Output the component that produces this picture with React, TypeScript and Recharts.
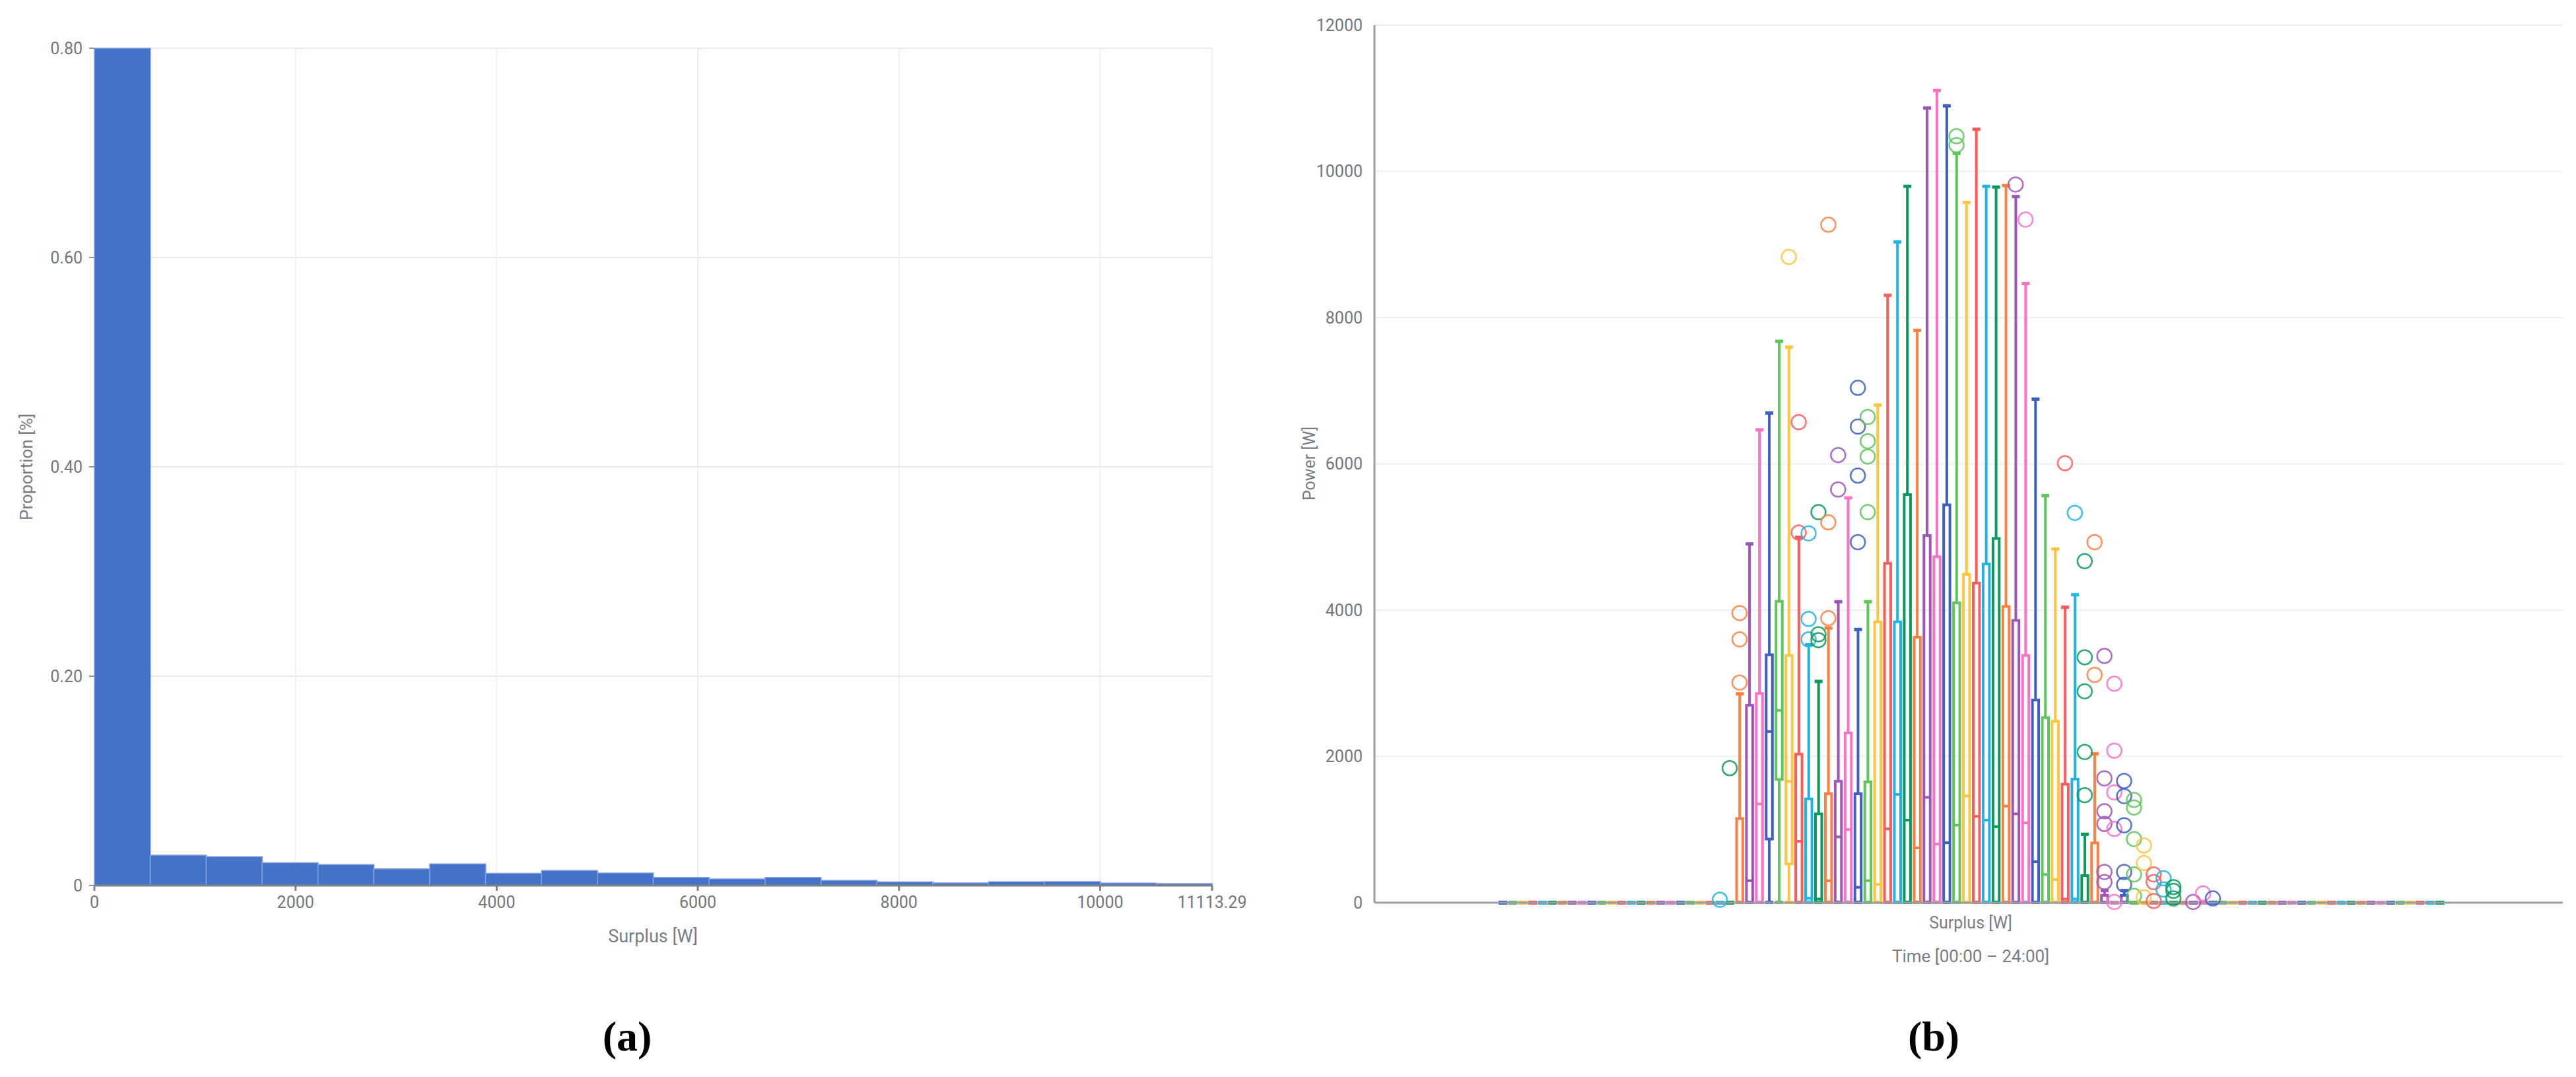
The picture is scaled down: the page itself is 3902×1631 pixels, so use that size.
import { BarChart, Bar, XAxis, YAxis, CartesianGrid, ComposedChart, Scatter } from "recharts";

// (a) histogram of surplus: 20 bins of 555.66 W up to 11113.29 W
const binCenters = [
  277.83, 833.5, 1389.16, 1944.83, 2500.49, 3056.15, 3611.82, 4167.48, 4723.15, 5278.81,
  5834.48, 6390.14, 6945.81, 7501.47, 8057.13, 8612.8, 9168.46, 9724.13, 10279.79, 10835.46,
];
const proportions = [
  0.8, 0.029, 0.0276, 0.0217, 0.02, 0.016, 0.0206, 0.0116, 0.0143, 0.012,
  0.0078, 0.0063, 0.0078, 0.0049, 0.0034, 0.0025, 0.0036, 0.0038, 0.0023, 0.0019,
];
const histXTicks = [0, 2000, 4000, 6000, 8000, 10000, 11113.29];
const histYTicks = [0, 0.2, 0.4, 0.6, 0.8];

// (b) box plots, one per 15-minute slot (96 slots over the day)
const whiskerLow = [
  0, 0, 0, 0, 0, 0, 0, 0, 0, 0, 0, 0,
  0, 0, 0, 0, 0, 0, 0, 0, 0, 0, 0, 0,
  0, 0, 0, 0, 0, 0, 0, 0, 0, 0, 0, 0,
  0, 0, 0, 0, 0, 0, 0, 0, 0, 0, 0, 0,
  0, 0, 0, 0, 0, 0, 0, 0, 0, 0, 0, 0,
  0, 0, 0, 0, 0, 0, 0, 0, 0, 0, 0, 0,
  0, 0, 0, 0, 0, 0, 0, 0, 0, 0, 0, 0,
  0, 0, 0, 0, 0, 0, 0, 0, 0, 0, 0, 0,
];
const quartile1 = [
  0, 0, 0, 0, 0, 0, 0, 0, 0, 0, 0, 0,
  0, 0, 0, 0, 0, 0, 0, 0, 0, 0, 0, 0,
  0, 0, 0, 870, 1685, 530, 0, 0, 0, 0, 0, 0,
  0, 0, 0, 0, 0, 0, 0, 0, 0, 0, 0, 0,
  0, 0, 0, 0, 0, 0, 0, 0, 0, 0, 0, 0,
  0, 0, 0, 0, 0, 0, 0, 0, 0, 0, 0, 0,
  0, 0, 0, 0, 0, 0, 0, 0, 0, 0, 0, 0,
  0, 0, 0, 0, 0, 0, 0, 0, 0, 0, 0, 0,
];
const medians = [
  0, 0, 0, 0, 0, 0, 0, 0, 0, 0, 0, 0,
  0, 0, 0, 0, 0, 0, 0, 0, 0, 0, 0, 0,
  0, 300, 1350, 2340, 2630, 1660, 840, 60, 50, 300, 900, 1000,
  210, 300, 250, 1010, 1480, 1130, 750, 1440, 800, 820, 1060, 1460,
  1180, 1130, 1040, 1320, 1215, 1090, 560, 385, 316, 50, 50, 0,
  0, 0, 0, 0, 0, 0, 0, 0, 0, 0, 0, 0,
  0, 0, 0, 0, 0, 0, 0, 0, 0, 0, 0, 0,
  0, 0, 0, 0, 0, 0, 0, 0, 0, 0, 0, 0,
];
const quartile3 = [
  0, 0, 0, 0, 0, 0, 0, 0, 0, 0, 0, 0,
  0, 0, 0, 0, 0, 0, 0, 0, 0, 0, 0, 0,
  1150, 2700, 2860, 3390, 4120, 3380, 2030, 1420, 1215, 1490, 1660, 2320,
  1490, 1650, 3840, 4640, 3840, 5580, 3630, 5020, 4730, 5440, 4100, 4490,
  4370, 4630, 4980, 4050, 3860, 3380, 2770, 2530, 2480, 1620, 1690, 370,
  817, 100, 0, 100, 0, 0, 0, 0, 0, 0, 0, 0,
  0, 0, 0, 0, 0, 0, 0, 0, 0, 0, 0, 0,
  0, 0, 0, 0, 0, 0, 0, 0, 0, 0, 0, 0,
];
const whiskerHigh = [
  0, 0, 0, 0, 0, 0, 0, 0, 0, 0, 0, 0,
  0, 0, 0, 0, 0, 0, 0, 0, 0, 0, 0, 0,
  2860, 4910, 6470, 6700, 7680, 7600, 5000, 3530, 3030, 3760, 4120, 5540,
  3740, 4120, 6810, 8310, 9040, 9800, 7830, 10870, 11110, 10900, 10250, 9580,
  10580, 9800, 9790, 9810, 9660, 8470, 6890, 5570, 4840, 4045, 4215, 940,
  2040, 170, 0, 170, 0, 0, 0, 0, 0, 0, 0, 0,
  0, 0, 0, 0, 0, 0, 0, 0, 0, 0, 0, 0,
  0, 0, 0, 0, 0, 0, 0, 0, 0, 0, 0, 0,
];
// [slot, value]
const outliers = [
  [22, 40], [23, 1840],
  [24, 3010], [24, 3600], [24, 3960],
  [29, 8830],
  [30, 5060], [30, 6570],
  [31, 3600], [31, 3880], [31, 5050],
  [32, 3590], [32, 3670], [32, 5340],
  [33, 3890], [33, 5200], [33, 9270],
  [34, 5650], [34, 6120],
  [36, 4930], [36, 5840], [36, 6510], [36, 7040],
  [37, 5340], [37, 6100], [37, 6310], [37, 6640],
  [46, 10360], [46, 10480],
  [52, 9820], [53, 9340], [57, 6010], [58, 5330],
  [59, 1470], [59, 2060], [59, 2890], [59, 3355], [59, 4670],
  [60, 3115], [60, 4930],
  [61, 282], [61, 420], [61, 1077], [61, 1250], [61, 1700], [61, 3374],
  [62, 10], [62, 1008], [62, 1508], [62, 2079], [62, 2994],
  [63, 247], [63, 420], [63, 1059], [63, 1457], [63, 1664],
  [64, 92], [64, 385], [64, 870], [64, 1301], [64, 1405],
  [65, 75], [65, 542], [65, 783],
  [66, 23], [66, 282], [66, 385],
  [67, 180], [67, 334],
  [68, 58], [68, 162], [68, 213],
  [70, 10], [71, 126], [72, 58],
];
const powerTicks = [0, 2000, 4000, 6000, 8000, 10000, 12000];

const palette = ["#3d5fc6", "#5ec65b", "#ffc53d", "#ff5b5b", "#1fb4e3", "#0a9a5c", "#ff7f41", "#9d55b8", "#ff70c8"];

const histData = binCenters.map((x, i) => ({ x, p: proportions[i] }));
const boxData = whiskerHigh.map((hi, slot) => ({
  slot,
  lo: whiskerLow[slot],
  q1: quartile1[slot],
  med: medians[slot],
  q3: quartile3[slot],
  hi,
  range: [whiskerLow[slot], hi],
}));
const outlierData = outliers.map(([slot, value]) => ({ slot, value }));

const tickStyle = { fill: "#73767d", fontSize: 25, fontFamily: "Roboto" };
const titleColor = "#7a7d84";

function BoxShape(props: any) {
  const { x, y, width, height, payload } = props;
  const color = palette[payload.slot % palette.length];
  const top = Math.min(y, y + height);
  const span = payload.hi - payload.lo;
  if (!(span > 0)) {
    return <rect x={x} y={top - 3} width={width} height={6} fill={color} />;
  }
  const unit = Math.abs(height) / span;
  const py = (v: number) => top + (payload.hi - v) * unit;
  const cx = x + width / 2;
  const sw = 4;
  const boxTop = py(payload.q3);
  const boxBot = py(payload.q1);
  return (
    <g>
      <line x1={cx} x2={cx} y1={py(payload.hi)} y2={boxTop} stroke={color} strokeWidth={sw} />
      <line x1={cx} x2={cx} y1={boxBot} y2={py(payload.lo)} stroke={color} strokeWidth={sw} />
      <rect x={cx - 6} y={py(payload.hi) - 2} width={12} height={5} fill={color} />
      <rect x={cx - 6} y={py(payload.lo) - 3} width={12} height={5} fill={color} />
      <rect x={x + sw / 2} y={boxTop} width={width - sw} height={Math.max(boxBot - boxTop, 0)} fill="none" stroke={color} strokeWidth={sw} />
      <line x1={x + sw / 2} x2={x + width - sw / 2} y1={py(payload.med)} y2={py(payload.med)} stroke={color} strokeWidth={sw} />
    </g>
  );
}

function OutlierShape(props: any) {
  const { cx, cy, payload } = props;
  const color = palette[payload.slot % palette.length];
  return <circle cx={cx} cy={cy} r={11} fill="none" stroke={color} strokeOpacity={0.85} strokeWidth={2.5} />;
}

function Title({ text, x, y, size = 26, rotate = false }: { text: string; x: number; y: number; size?: number; rotate?: boolean }) {
  return (
    <div
      style={{
        position: "absolute",
        left: x,
        top: y,
        transform: `translate(-50%, -50%)${rotate ? " rotate(-90deg)" : ""}`,
        whiteSpace: "nowrap",
        fontFamily: "Roboto",
        fontSize: size,
        color: titleColor,
      }}
    >
      {text}
    </div>
  );
}

function PanelTag({ text, x, y }: { text: string; x: number; y: number }) {
  return (
    <div
      style={{
        position: "absolute",
        left: x,
        top: y,
        transform: "translate(-50%, -50%)",
        fontFamily: "Liberation Serif",
        fontWeight: "bold",
        fontSize: 64,
        color: "#000",
      }}
    >
      {text}
    </div>
  );
}

export default function App() {
  return (
    <div style={{ position: "absolute", left: 0, top: 0, width: 3902, height: 1631, background: "#fff" }}>
      <div style={{ position: "absolute", left: 0, top: 0 }}>
        <BarChart width={1900} height={1500} data={histData} margin={{ top: 73, right: 64, bottom: 99, left: 0 }} barCategoryGap={0} barGap={0}>
          <CartesianGrid vertical={false} stroke="#e4e9f4" strokeWidth={2} />
          <CartesianGrid horizontal={false} stroke="#eef0f3" strokeWidth={2} />
          <XAxis
            type="number"
            dataKey="x"
            domain={[0, 11113.29]}
            ticks={histXTicks}
            interval={0}
            tick={tickStyle}
            tickSize={8}
            tickMargin={8}
            stroke="#7d8088"
            strokeWidth={3}
            height={60}
            tickFormatter={(v) => String(v)}
          />
          <YAxis
            domain={[0, 0.8]}
            ticks={histYTicks}
            width={143}
            axisLine={false}
            tick={tickStyle}
            tickLine={{ stroke: "#8e9198", strokeWidth: 2 }}
            tickSize={8}
            tickMargin={10}
            tickFormatter={(v) => (v === 0 ? "0" : v.toFixed(2))}
          />
          <Bar dataKey="p" fill="#4472c8" stroke="#86a2e0" strokeWidth={1.5} isAnimationActive={false} />
        </BarChart>
      </div>
      <Title text="Proportion [%]" x={40} y={707} rotate />
      <Title text="Surplus [W]" x={989} y={1418} size={27} />
      <PanelTag text="(a)" x={950} y={1570} />

      <div style={{ position: "absolute", left: 1950, top: 0 }}>
        <ComposedChart width={1952} height={1500} data={boxData} margin={{ top: 38, right: 20, bottom: 132, left: 0 }}>
          <CartesianGrid vertical={false} stroke="#eff0f3" strokeWidth={2} />
          <XAxis
            type="number"
            dataKey="slot"
            domain={[-0.5, 95.5]}
            padding={{ left: 187, right: 179 }}
            tick={false}
            tickLine={false}
            height={1}
            stroke="#9a9da4"
            strokeWidth={3}
          />
          <YAxis
            domain={[0, 12000]}
            ticks={powerTicks}
            width={132}
            tick={tickStyle}
            tickLine={false}
            tickSize={0}
            tickMargin={18}
            stroke="#9a9da4"
            strokeWidth={3}
          />
          <Bar dataKey="range" barSize={15} shape={BoxShape} isAnimationActive={false} />
          <Scatter data={outlierData} dataKey="value" shape={OutlierShape} isAnimationActive={false} />
        </ComposedChart>
      </div>
      <Title text="Power [W]" x={1983} y={702} size={25} rotate />
      <Title text="Surplus [W]" x={2985} y={1397} size={25} />
      <Title text="Time [00:00 – 24:00]" x={2985} y={1448} />
      <PanelTag text="(b)" x={2929} y={1570} />
    </div>
  );
}
